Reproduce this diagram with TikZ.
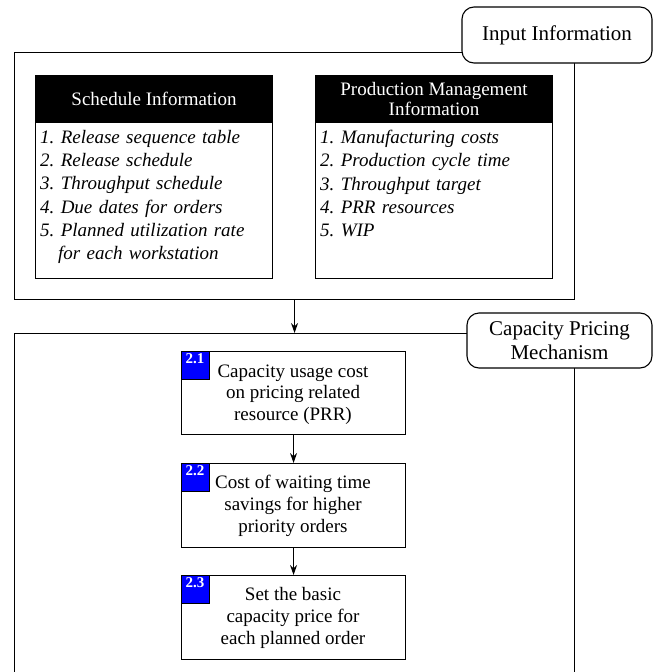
\documentclass[tikz,border=0pt]{standalone}
\usepackage{fontspec}
\setmainfont{Liberation Serif}
\usetikzlibrary{arrows.meta}
\frenchspacing
\begin{document}
\begin{tikzpicture}[x=1pt,y=-1pt,
  frame/.style={draw, line width=1.1pt, inner sep=0pt, anchor=north west},
  tagbox/.style={draw, line width=1.1pt, fill=white, rounded corners=12pt, inner sep=0pt, align=center,
    font=\fontsize{21}{23.3}\selectfont},
  headbox/.style={draw, fill=black, text=white, line width=1.1pt, inner sep=0pt, anchor=north west,
    minimum width=237pt, minimum height=47pt, align=center, font=\fontsize{19}{20.5}\selectfont},
  listbox/.style={draw, line width=1.1pt, inner sep=0pt, anchor=north west, minimum width=237pt, minimum height=156pt},
  listtext/.style={inner sep=0pt, anchor=north west, text width=230pt, align=left,
    font=\fontsize{19}{23.3}\selectfont\itshape\frenchspacing},
  stepbox/.style={draw, line width=1.1pt, inner sep=0pt, anchor=north west, minimum width=224pt,
    minimum height=84pt},
  steptext/.style={inner sep=0pt, align=center, font=\fontsize{19}{21.7}\selectfont},
  badge/.style={draw, line width=0.8pt, fill=blue, inner sep=0pt, anchor=north west,
    minimum width=28pt, minimum height=28pt},
  badgetext/.style={inner sep=0pt, anchor=north, text=white, font=\fontsize{15}{15}\selectfont\bfseries},
  arr/.style={line width=1.1pt, -{Stealth[length=10pt,width=7pt]}}]
\clip (0,0) rectangle (654,672);
% outer boxes
\node[frame, minimum width=560pt, minimum height=247pt] (outer1) at (14,52) {};
\node[frame, minimum width=560pt, minimum height=400pt] (outer2) at (14,333) {};
% labels
\node[tagbox, minimum width=190pt, minimum height=56pt] (inlabel) at (557,35) {Input Information};
\node[tagbox, minimum width=185pt, minimum height=55pt] (caplabel) at (559.5,340.5) {Capacity Pricing\\Mechanism};
% headers and lists
\node[headbox] (schedhead) at (35,75) {Schedule Information};
\node[listbox] (schedlist) at (35,122) {};
\node[listtext] (schedtext) at (40,130) {1. Release sequence table\\2. Release schedule\\3. Throughput schedule\\4. Due dates for orders\\5. Planned utilization rate\\\hspace*{18pt}for each workstation};
\node[headbox] (prodhead) at (315,75) {Production Management\\Information};
\node[listbox] (prodlist) at (315,122) {};
\node[listtext] (prodtext) at (320,130) {1. Manufacturing costs\\2. Production cycle time\\3. Throughput target\\4. PRR resources\\5. WIP};
% steps
\node[stepbox, minimum height=83pt] (s1) at (181,351) {};
\node[steptext] (s1t) at (293,394.5) {Capacity usage cost\\on pricing related\\resource (PRR)};
\node[badge] (b1) at (181,351) {};
\node[badgetext] (b1t) at (195,353) {2.1};
\node[stepbox] (s2) at (181,463) {};
\node[steptext] (s2t) at (293,506) {Cost of waiting time\\savings for higher\\priority orders};
\node[badge] (b2) at (181,463) {};
\node[badgetext] (b2t) at (195,465) {2.2};
\node[stepbox] (s3) at (181,575) {};
\node[steptext] (s3t) at (293,618) {Set the basic\\capacity price for\\each planned order};
\node[badge] (b3) at (181,575) {};
\node[badgetext] (b3t) at (195,577) {2.3};
% arrows
\draw[arr] (outer1.south) -- (outer2.north);
\draw[arr] (s1.south) -- (s2.north);
\draw[arr] (s2.south) -- (s3.north);
\end{tikzpicture}
\end{document}
